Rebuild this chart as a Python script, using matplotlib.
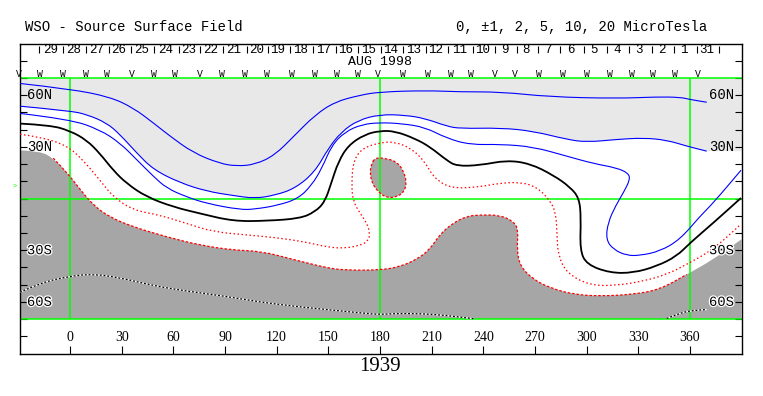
import matplotlib.pyplot as plt
import matplotlib.patheffects as pe
from matplotlib.path import Path
from matplotlib.patches import PathPatch
import numpy as np

# WSO source surface field, Carrington rotation 1939 (Aug 1998)
rotation = "1939"
month_label = "AUG 1998"

# contour traces (lon, lat in degrees)
pos_a_lon = [-29.0, 0.0, 23.2, 36.8, 48.4, 58.1, 71.6, 87.1, 96.8, 107.4, 118.9, 130.6, 142.2,
             153.8, 168.3, 180.0, 207.1, 226.5, 250.3, 278.7, 317.4, 340.7, 354.2, 360.0, 369.7]
pos_a_lat = [66.8, 63.6, 59.0, 52.6, 43.9, 36.2, 26.5, 20.3, 18.8, 19.7, 25.1, 36.8, 48.4,
             56.1, 60.0, 61.9, 62.7, 61.9, 61.9, 59.0, 58.1, 59.0, 58.8, 57.5, 55.9]

pos_b_lon = [-29.0, 0.0, 9.7, 21.3, 29.0, 38.7, 48.4, 63.9, 79.4, 94.8, 107.4, 119.0, 130.6,
             142.2, 149.9, 157.6, 167.3, 180.0, 194.5, 206.1, 218.7, 226.5, 250.3, 269.0,
             288.5, 300.0, 317.4, 332.9, 346.5, 358.1, 369.7]
pos_b_lat = [53.6, 50.9, 48.8, 43.9, 37.2, 26.5, 16.8, 9.1, 4.2, 1.7, 0.0, 1.9, 5.8,
             15.4, 29.0, 38.7, 45.5, 48.8, 48.4, 46.5, 42.0, 40.6, 41.0, 39.1,
             34.3, 32.7, 34.3, 35.2, 33.9, 30.4, 27.5]

pos_c_lon = [-29.0, 0.0, 17.4, 29.0, 38.7, 48.4, 56.1, 67.8, 79.4, 98.7, 107.4, 121.0, 132.6,
             140.3, 146.2, 152.0, 159.7, 169.4, 180.0, 192.6, 206.1, 218.7, 232.3, 250.3,
             269.0, 288.4, 303.9, 317.4, 324.2, 325.2, 321.3, 317.0, 312.4, 311.2, 315.5,
             323.2, 331.0, 342.6, 354.2, 365.8, 373.5, 389.6]
pos_c_lat = [49.4, 46.0, 39.9, 32.3, 22.6, 12.9, 6.0, 0.9, -2.9, -6.5, -6.2, -3.9, 0.0,
             7.7, 17.4, 30.9, 38.7, 43.0, 44.1, 43.5, 41.4, 35.0, 31.2, 31.5,
             30.0, 24.6, 20.3, 17.8, 14.7, 11.0, 3.3, -3.9, -13.8, -23.8, -29.6,
             -33.1, -33.1, -30.6, -23.8, -10.3, -2.6, 16.4]

neutral_lon = [-29.0, -11.6, 0.0, 9.7, 17.4, 25.1, 32.9, 44.5, 60.0, 75.5, 94.8, 114.2, 133.5,
               142.2, 148.0, 151.9, 155.8, 161.6, 171.2, 180.0, 188.7, 200.3, 209.0, 218.7,
               224.5, 238.1, 253.6, 267.1, 280.7, 290.3, 295.7, 296.7, 296.1, 300.0, 313.5,
               327.1, 340.7, 352.3, 360.0, 373.5, 389.6]
neutral_lat = [43.5, 42.6, 39.3, 33.9, 26.1, 16.4, 8.7, 0.9, -4.9, -8.7, -13.2, -13.0, -11.6,
               -7.8, -2.0, 9.6, 21.3, 30.9, 37.2, 39.3, 39.1, 34.8, 30.0, 22.2,
               18.8, 19.3, 22.2, 20.3, 13.5, 6.7, 0.2, -11.4, -30.0, -38.3, -43.2,
               -43.2, -39.3, -33.5, -25.8, -14.2, 0.3]

neg_a_lon = [-29.0, -17.4, -1.9, 7.7, 17.4, 25.1, 36.8, 52.3, 67.8, 83.2, 104.5, 123.9, 139.3,
             149.0, 158.7, 168.3, 173.2, 174.2, 172.3, 168.3, 164.4, 163.5, 164.4, 169.3,
             180.0, 188.7, 198.4, 206.1, 210.9, 220.6, 238.1, 247.8, 261.3, 271.0, 278.7,
             282.2, 282.8, 283.4, 288.4, 301.9, 317.4, 332.9, 346.4, 358.1, 373.5, 389.6]
neg_a_lat = [37.3, 35.8, 30.9, 22.2, 10.6, 0.9, -6.8, -9.7, -14.5, -19.4, -21.3, -23.2, -25.8,
             -28.1, -29.0, -27.3, -24.8, -20.0, -14.2, -8.4, -1.6, 7.7, 21.3, 29.0,
             32.5, 32.9, 29.0, 21.3, 12.5, 5.8, 6.7, 8.7, 9.6, 6.7, -1.0,
             -8.5, -21.3, -32.9, -43.4, -50.5, -50.5, -48.0, -44.1, -38.3, -29.6, -14.9]

neg_b_lon = [-29.0, -17.4, -9.7, -1.9, 5.8, 13.5, 23.2, 36.8, 56.1, 75.5, 94.8, 110.9, 129.7,
             149.1, 159.7, 180.0, 191.6, 201.3, 209.0, 214.8, 222.5, 230.3, 238.1, 249.7,
             257.4, 260.3, 259.5, 261.3, 269.0, 278.7, 292.3, 307.7, 327.1, 342.6, 358.1,
             373.5, 389.6]
neg_b_lat = [28.0, 27.5, 23.4, 15.3, 5.4, -3.9, -10.9, -16.5, -22.3, -27.1, -30.0, -30.6, -35.4,
             -40.3, -41.6, -41.6, -39.6, -35.4, -29.6, -20.7, -14.2, -10.3, -9.5, -9.7,
             -13.2, -18.0, -29.6, -39.3, -47.0, -51.9, -55.7, -56.7, -55.7, -52.8, -44.1,
             -35.4, -23.9]

island_lon = [177.1, 183.9, 189.7, 193.5, 195.5, 194.1, 189.7, 183.9, 179.0, 175.5, 174.2, 174.8]
island_lat = [23.8, 23.2, 21.3, 16.4, 9.6, 3.8, 0.9, 0.3, 3.8, 8.7, 14.5, 19.3]

neg_c_lon = [-29.0, -17.4, 0.0, 13.5, 29.0, 48.4, 67.8, 87.1, 110.9, 129.7, 149.1, 168.4,
             180.0, 187.7, 203.2, 218.7, 234.2]
neg_c_lat = [-54.4, -49.0, -45.1, -43.8, -46.0, -50.6, -53.8, -56.3, -60.2, -62.5, -64.5, -66.4,
             -67.4, -66.8, -66.8, -67.9, -69.8]
neg_c2_lon = [346.5, 354.2, 361.9, 369.7]
neg_c2_lat = [-69.7, -66.4, -65.0, -64.5]

# day-of-month marks along the top
day_labels = ['29', '28', '27', '26', '25', '24', '23', '22', '21', '20', '19', '18', '17',
              '16', '15', '14', '13', '12', '11', '10', '9', '8', '7', '6', '5', '4', '3',
              '2', '1', '31']
day_tick_lon = [-17.8, -3.9, 9.1, 22.6, 35.2, 48.9, 63.1, 75.5, 89.0, 102.6, 115.1, 127.7,
                141.3, 154.3, 167.4, 180.3, 193.2, 206.5, 219.3, 233.8, 246.8, 259.4, 271.7,
                284.5, 298.5, 311.6, 324.6, 337.8, 350.7, 363.9, 377.0]
sector_lon = [-29.4, -17.4, -3.9, 9.3, 21.7, 35.8, 48.8, 61.0, 75.5, 88.1, 101.6, 114.2, 128.7,
              142.3, 154.9, 167.4, 179.0, 193.5, 208.0, 221.2, 232.7, 246.8, 258.4, 272.5,
              286.4, 300.4, 313.6, 326.1, 338.3, 351.3, 364.8]
sector_mark = list("VWWWWVWWVWWWWWWWV" + "WWWWVVWWWWWWWV")

lon_ticks = list(range(0, 361, 30))
lat_ticks = list(range(-80, 81, 10))
lat_labels = {60: '60N', 30: '30N', -30: '30S', -60: '60S'}
grid_lat = [-70, 0, 70]
grid_lon = [0, 180, 360]

mono = 'Liberation Mono'
serif = 'Liberation Serif'
light = '#e8e8e8'
dark = '#a6a6a6'
green = '#00ff00'


def curve(lon, lat, head=(), tail=(), closed=False):
    """smooth quadratic path through the traced points (points act as control vertices)"""
    p = np.column_stack([lon, lat]).astype(float)
    verts, codes = [], []
    if closed:
        n = len(p)
        verts.append((p[-1] + p[0]) / 2)
        codes.append(Path.MOVETO)
        for i in range(n):
            verts += [p[i], (p[i] + p[(i + 1) % n]) / 2]
            codes += [Path.CURVE3, Path.CURVE3]
        verts.append(verts[0])
        codes.append(Path.CLOSEPOLY)
        return Path(verts, codes)
    for h in head:
        verts.append(h)
        codes.append(Path.LINETO)
    verts.append(p[0])
    codes.append(Path.LINETO)
    for i in range(1, len(p) - 1):
        verts += [p[i], (p[i] + p[i + 1]) / 2]
        codes += [Path.CURVE3, Path.CURVE3]
    verts.append(p[-1])
    codes.append(Path.LINETO)
    for t in tail:
        verts.append(t)
        codes.append(Path.LINETO)
    codes[0] = Path.MOVETO
    if head or tail:
        verts.append(verts[0])
        codes.append(Path.CLOSEPOLY)
    return Path(verts, codes)


def trace(ax, lon, lat, closed=False, **kw):
    ax.add_patch(PathPatch(curve(lon, lat, closed=closed), fill=False, capstyle='butt', **kw))


fig = plt.figure(figsize=(7.63, 3.96), dpi=100)
ax = fig.add_axes([19.5 / 763, 42.5 / 396, 722 / 763, 310 / 396])
x0, x1 = -29.3, 389.9
ax.set_xlim(x0, x1)
ax.set_ylim(-90, 90)

# shaded polarity regions
top = curve(pos_b_lon, pos_b_lat, head=[(x0, 70), (x0, pos_b_lat[0])],
            tail=[(x1, pos_b_lat[-1]), (x1, 70)])
ax.add_patch(PathPatch(top, facecolor=light, lw=0, zorder=1))
bot = curve(neg_b_lon, neg_b_lat, head=[(x0, -70), (x0, neg_b_lat[0])],
            tail=[(x1, neg_b_lat[-1]), (x1, -70)])
ax.add_patch(PathPatch(bot, facecolor=dark, lw=0, zorder=1))
ax.add_patch(PathPatch(curve(island_lon, island_lat, closed=True), facecolor=dark, lw=0, zorder=1))

for g in grid_lat:
    ax.axhline(g, color=green, lw=1.1, zorder=2)
ax.vlines(grid_lon, -70, 70, color=green, lw=1.1, zorder=2)

# contours
for lo, la in [(pos_a_lon, pos_a_lat), (pos_b_lon, pos_b_lat), (pos_c_lon, pos_c_lat)]:
    trace(ax, lo, la, edgecolor='blue', lw=0.8, zorder=3)
trace(ax, neutral_lon, neutral_lat, edgecolor='black', lw=1.3, zorder=3)
trace(ax, neg_a_lon, neg_a_lat, edgecolor='red', lw=0.9, ls=(0, (1.2, 2.0)), zorder=3)
trace(ax, neg_b_lon[2:35], neg_b_lat[2:35], edgecolor='red', lw=0.9, ls=(0, (2.0, 1.5)), zorder=3)
trace(ax, island_lon, island_lat, closed=True, edgecolor='red', lw=0.9, ls=(0, (2.0, 1.5)), zorder=3)
for lo, la in [(neg_c_lon, neg_c_lat), (neg_c2_lon, neg_c2_lat)]:
    trace(ax, lo, la, edgecolor='white', lw=0.9, zorder=3)
    trace(ax, lo, la, edgecolor='black', lw=0.9, ls=(0, (1.5, 1.5)), zorder=3)

# frame and ticks
for s in ax.spines.values():
    s.set_linewidth(1.0)
ax.set_xticks(lon_ticks)
ax.set_yticks(lat_ticks)
ax.tick_params(axis='x', direction='in', length=5.8, width=0.8, labelbottom=False)
ax.tick_params(axis='y', direction='in', length=5, width=0.8, left=True, right=True,
               labelleft=False)

for lo in lon_ticks:
    ax.text(lo, -80.9, str(lo), family=serif, size=10, ha='center', va='center')

halo = [pe.withStroke(linewidth=1.8, foreground='white')]
for la, lab in lat_labels.items():
    eff = halo if la < 0 else None
    ax.text(-25.0, la, lab, family=mono, size=10, ha='left', va='center', zorder=5,
            path_effects=eff)
    ax.text(385.6, la, lab, family=mono, size=10, ha='right', va='center', zorder=5,
            path_effects=eff)

# date scale along the top
ax.vlines(day_tick_lon, 84.4, 88.7, color='black', lw=0.8)
for i, lab in enumerate(day_labels):
    mid = (day_tick_lon[i] + day_tick_lon[i + 1]) / 2 - 0.6
    ax.text(mid, 86.1, lab, family=mono, size=9, ha='center', va='center')
ax.text(180, 79.3, month_label, family=mono, size=9.5, ha='center', va='center')
for lo, m in zip(sector_lon, sector_mark):
    ax.text(lo, 72.3, m, family=mono, size=7, ha='center', va='center', clip_on=False)

ax.text(180, -97.4, rotation, family=serif, size=15, ha='center', va='center', clip_on=False)

fig.text(25 / 763, 1 - 27 / 396, 'WSO - Source Surface Field', family=mono, size=10,
         ha='left', va='center')
fig.text(456 / 763, 1 - 27 / 396, '0, \u00b11, 2, 5, 10, 20 MicroTesla', family=mono, size=10,
         ha='left', va='center')
fig.text(15 / 763, 1 - 186 / 396, '>', family=mono, size=5, color=green, ha='center', va='center')

fig.savefig('out.png', dpi=100)
